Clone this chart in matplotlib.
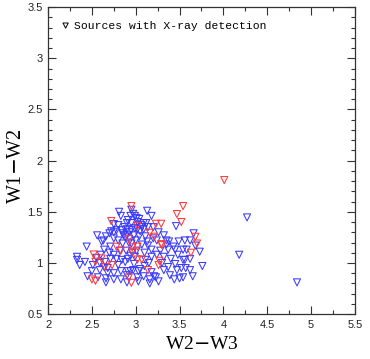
import matplotlib
matplotlib.use('Agg')
import matplotlib.pyplot as plt
from matplotlib.ticker import MultipleLocator

# W2-W3 / W1-W2 colours of the X-ray sources
blue_x = [2.81, 2.83, 2.95, 2.97, 2.94, 2.99, 3.01, 3.13, 3.18, 3.46, 2.91, 3.04, 2.90, 2.95, 3.02,
          3.09, 3.12, 3.14, 3.07, 2.87, 2.80, 2.75, 2.72, 2.75, 2.70, 2.78, 2.84, 2.90, 2.95, 3.02,
          3.05, 3.09, 3.20, 3.26, 3.32, 3.35, 3.38, 2.66, 2.63, 2.56, 2.61, 2.75, 2.80, 2.86, 2.90,
          2.98, 3.11, 3.13, 3.20, 3.24, 2.44, 2.64, 2.71, 2.85, 2.95, 3.07, 3.14, 3.18, 3.35, 3.37,
          3.43, 3.49, 3.56, 3.62, 3.66, 3.45, 3.54, 3.58, 3.68, 3.73, 2.33, 2.33, 2.36, 2.42, 2.51,
          2.59, 2.65, 2.71, 2.75, 2.78, 2.84, 2.88, 2.91, 2.94, 2.99, 3.11, 3.18, 3.24, 3.32, 3.40,
          3.48, 3.54, 3.56, 3.62, 2.45, 2.50, 2.59, 2.64, 2.68, 2.75, 2.83, 2.91, 2.94, 2.97, 3.03,
          3.05, 3.18, 3.21, 3.32, 3.37, 3.39, 3.47, 3.52, 3.57, 3.62, 3.65, 3.76, 2.57, 2.66, 2.75,
          2.83, 2.90, 3.02, 3.09, 3.16, 3.23, 3.26, 3.44, 3.50, 3.54, 2.66, 2.90, 3.03, 3.16,
          2.85, 2.93, 2.99, 3.06, 3.00, 2.92, 2.82, 2.89, 3.01, 3.10, 2.70, 2.60, 3.28, 3.30, 3.45,
          2.80, 2.98, 3.10, 2.55, 2.88, 3.04, 2.96, 3.15, 2.68,
          4.27, 4.18, 4.84]
blue_y = [1.50, 1.46, 1.52, 1.48, 1.46, 1.46, 1.44, 1.51, 1.46, 1.36, 1.42, 1.43, 1.39, 1.39, 1.40,
          1.39, 1.39, 1.35, 1.35, 1.35, 1.37, 1.38, 1.31, 1.30, 1.29, 1.32, 1.32, 1.33, 1.32, 1.33,
          1.31, 1.33, 1.35, 1.30, 1.27, 1.22, 1.21, 1.26, 1.22, 1.27, 1.21, 1.24, 1.22, 1.27, 1.27,
          1.27, 1.26, 1.21, 1.24, 1.22, 1.16, 1.13, 1.16, 1.19, 1.19, 1.18, 1.17, 1.13, 1.18, 1.13,
          1.16, 1.21, 1.22, 1.22, 1.29, 1.13, 1.13, 1.13, 1.17, 1.11, 1.06, 1.03, 0.98, 1.01, 0.98,
          1.00, 1.01, 1.04, 1.08, 1.04, 1.03, 1.01, 1.04, 1.07, 1.06, 1.03, 1.06, 1.08, 1.06, 1.04,
          1.08, 1.03, 1.03, 1.04, 0.87, 0.92, 0.93, 0.96, 0.95, 0.90, 0.92, 0.92, 0.92, 0.93, 0.92,
          0.94, 0.91, 0.87, 0.93, 0.96, 0.88, 0.93, 0.95, 0.95, 0.93, 0.87, 0.97, 0.86, 0.85, 0.84,
          0.84, 0.88, 0.86, 0.87, 0.84, 0.86, 0.82, 0.84, 0.85, 0.86, 0.81, 0.81, 0.82, 0.80,
          1.29, 1.30, 1.34, 1.37, 1.22, 1.20, 1.12, 1.12, 1.12, 1.10, 1.10, 1.08, 1.12, 1.00, 0.99,
          0.98, 0.99, 0.97, 1.05, 1.25, 1.26, 1.10, 1.00, 0.90,
          1.445, 1.08, 0.81]

red_x = [2.95, 3.54, 3.47, 2.72, 3.52, 3.23, 3.29, 3.02, 3.16, 3.68, 2.92, 3.70, 2.78, 2.96, 3.29,
         2.83, 2.96, 2.52, 3.63, 2.61, 3.02, 3.07, 2.54, 3.27, 2.73, 3.26, 3.14, 2.50, 2.54, 2.92,
         2.95, 4.01, 3.21, 3.30, 3.02, 2.65]
red_y = [1.556, 1.556, 1.478, 1.41, 1.40, 1.383, 1.383, 1.363, 1.295, 1.256, 1.233, 1.19, 1.158,
         1.152, 1.184, 1.119, 1.109, 1.083, 1.10, 1.044, 1.034, 1.034, 1.012, 1.021, 0.979, 0.979,
         0.93, 0.839, 0.826, 0.858, 0.806, 1.81, 1.256, 1.174, 1.16, 0.96]

fig = plt.figure(figsize=(3.7, 3.59), dpi=100)
ax = fig.add_axes([0.130, 0.125, 0.829, 0.855])

ax.scatter(blue_x, blue_y, marker='v', s=26, facecolors='none', edgecolors='#3a3aff', linewidths=0.75)
ax.scatter(red_x, red_y, marker='v', s=26, facecolors='none', edgecolors='#ff3a3a', linewidths=0.75)

ax.set_xlim(2, 5.5)
ax.set_ylim(0.5, 3.5)
ax.xaxis.set_major_locator(MultipleLocator(0.5))
ax.xaxis.set_minor_locator(MultipleLocator(0.25))
ax.yaxis.set_major_locator(MultipleLocator(0.5))
ax.yaxis.set_minor_locator(MultipleLocator(0.1))
ax.xaxis.set_major_formatter(plt.FuncFormatter(lambda v, p: '%g' % v))
ax.yaxis.set_major_formatter(plt.FuncFormatter(lambda v, p: '%g' % v))
ax.tick_params(which='both', direction='in', top=True, right=True, width=0.8, color='#333333',
               labelcolor='#222222')
ax.tick_params(which='major', length=6, pad=4)
ax.tick_params(which='minor', length=3)
for lab in ax.get_xticklabels() + ax.get_yticklabels():
    lab.set_family('Liberation Sans')
    lab.set_fontsize(8)
for sp in ax.spines.values():
    sp.set_linewidth(0.9)
    sp.set_color('#333333')

ax.set_xlabel('W2$-$W3', family='Liberation Serif', fontsize=14, va='center')
ax.set_ylabel('W1$-$W2', family='Liberation Serif', fontsize=14.5, va='center')
ax.xaxis.set_label_coords(0.5, -0.10)
ax.yaxis.set_label_coords(-0.104, 0.482)

# legend-like note
ax.scatter([2.2], [3.32], marker='v', s=14, facecolors='none', edgecolors='black', linewidths=0.7)
ax.text(2.29, 3.32, 'Sources with X-ray detection', family='Liberation Mono', fontsize=8.2,
        va='center', ha='left')

fig.savefig('out.png', dpi=100)
